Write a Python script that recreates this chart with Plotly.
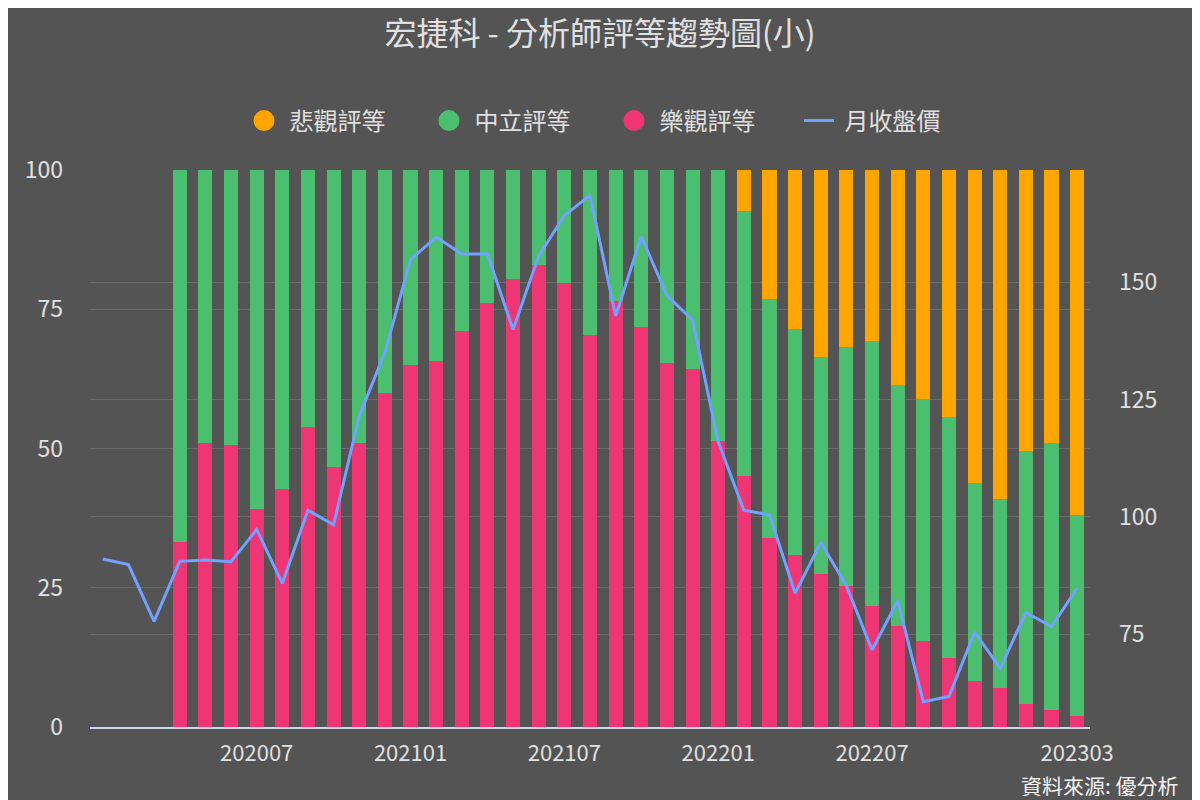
import plotly.graph_objects as go

months = ['202001', '202002', '202003', '202004', '202005', '202006', '202007', '202008', '202009', '202010',
          '202011', '202012', '202101', '202102', '202103', '202104', '202105', '202106', '202107', '202108',
          '202109', '202110', '202111', '202112', '202201', '202202', '202203', '202204', '202205', '202206',
          '202207', '202208', '202209', '202210', '202211', '202212', '202301', '202302', '202303']

bar_months = months[3:]

bullish = [33.3, 50.9, 50.6, 39.1, 42.7, 53.9, 46.7, 50.9, 59.9, 65.0, 65.7, 71.1, 76.1, 80.4, 82.9, 79.7,
           70.3, 76.5, 71.8, 65.3, 64.2, 51.3, 45.1, 34.0, 30.8, 27.5, 25.3, 21.8, 18.2, 15.4, 12.4, 8.2,
           7.0, 4.2, 3.1, 2.0]
neutral = [66.7, 49.1, 49.4, 60.9, 57.3, 46.1, 53.3, 49.1, 40.1, 35.0, 34.3, 28.9, 23.9, 19.6, 17.1, 20.3,
           29.7, 23.5, 28.2, 34.7, 35.8, 48.7, 47.6, 42.8, 40.6, 38.9, 42.9, 47.5, 43.2, 43.4, 43.2, 35.6,
           34.0, 45.3, 47.8, 36.0]
bearish = [0, 0, 0, 0, 0, 0, 0, 0, 0, 0, 0, 0, 0, 0, 0, 0, 0, 0, 0, 0, 0, 0,
           7.3, 23.2, 28.6, 33.6, 31.8, 30.7, 38.6, 41.2, 44.4, 56.2, 59.0, 50.5, 49.1, 62.0]

price = [91.0, 89.8, 77.7, 90.5, 90.8, 90.4, 97.3, 85.8, 101.4, 98.3, 121.5, 135.0, 154.8, 159.6, 156.0,
         156.0, 139.9, 155.6, 164.2, 168.5, 142.8, 159.7, 147.2, 141.9, 116.0, 101.4, 100.4, 83.7, 94.5,
         85.3, 71.6, 82.1, 60.6, 61.7, 75.4, 67.7, 79.6, 76.6, 84.8]

x_ticks = ['202007', '202101', '202107', '202201', '202207', '202303']
left_ticks = [0, 25, 50, 75, 100]
right_ticks = [75, 100, 125, 150]

C_BEAR = '#FFA500'
C_NEU = '#4BBF6F'
C_BULL = '#EF3674'
C_LINE = '#72A1FF'
BG = '#545454'
TXT = '#e0e0e0'
GRID = '#6a6a6a'

# page has an 8px body margin: figure is drawn at (8, 8)
OFF = 8
W, H = 1200 - OFF, 800 - OFF
PLOT_T, PLOT_B, PLOT_L, PLOT_R = 170 - OFF, 727 - OFF, 90 - OFF, 1090 - OFF
PH = PLOT_B - PLOT_T
PW = PLOT_R - PLOT_L
NB = '\u00a0'

fig = go.Figure()
for name, vals, col in [('樂觀評等', bullish, C_BULL), ('中立評等', neutral, C_NEU), ('悲觀評等', bearish, C_BEAR)]:
    fig.add_trace(go.Bar(x=bar_months, y=vals, name=name, marker=dict(color=col, line=dict(width=0)),
                         showlegend=False, yaxis='y'))

for name, col in [('悲觀評等', C_BEAR), ('中立評等', C_NEU), ('樂觀評等', C_BULL)]:
    fig.add_trace(go.Scatter(x=[None], y=[None], mode='markers', name=NB + name,
                             marker=dict(color=col, size=16, symbol='circle', line=dict(color=col, width=5))))

fig.add_trace(go.Scatter(x=months, y=price, name=NB + '月收盤價', mode='lines',
                         line=dict(color=C_LINE, width=3), yaxis='y2'))

fig.update_layout(
    width=W, height=H,
    paper_bgcolor=BG, plot_bgcolor=BG,
    font=dict(family='Noto Sans CJK TC', color=TXT, size=22),
    margin=dict(l=PLOT_L, r=W - PLOT_R, t=PLOT_T, b=H - PLOT_B, autoexpand=False),
    barmode='stack', bargap=0.45,
    title=dict(text='宏捷科 - 分析師評等趨勢圖(小)', x=(600 - OFF) / W, xanchor='center',
               y=1 - (34 - OFF) / H, yanchor='middle',
               font=dict(size=32, color=TXT)),
    legend=dict(orientation='h', traceorder='normal', x=(614 - OFF - PLOT_L) / PW, xanchor='center',
                y=1 + (170 - 121) / PH, yanchor='middle',
                font=dict(size=24, color=TXT), entrywidth=140, entrywidthmode='pixels',
                bgcolor='rgba(0,0,0,0)'),
    xaxis=dict(type='category', categoryorder='array', categoryarray=months, range=[-0.5, len(months) - 0.5],
               tickmode='array', tickvals=x_ticks, ticktext=x_ticks, showgrid=False, showline=True,
               linecolor='#ccd6eb', linewidth=2, ticks='', ticklabelstandoff=6,
               tickfont=dict(size=22, color=TXT)),
    yaxis=dict(range=[0, 100], tickmode='array', tickvals=left_ticks, showgrid=True, gridcolor=GRID,
               gridwidth=1, zeroline=False, ticklabelstandoff=26, tickfont=dict(size=23, color=TXT)),
    yaxis2=dict(range=[55.2, 173.9], overlaying='y', side='right', tickmode='array', tickvals=right_ticks,
                showgrid=True, gridcolor=GRID, gridwidth=1, zeroline=False, ticklabelstandoff=28,
                tickfont=dict(size=23, color=TXT)),
    annotations=[dict(text='資料來源: 優分析', xref='paper', yref='paper', x=(1180 - 90) / PW,
                      y=-(785 - 727) / PH, xanchor='right', yanchor='middle', showarrow=False,
                      height=22, borderpad=0, font=dict(size=21, color='#f0f0f0'))],
)

fig.write_html('out.html')
